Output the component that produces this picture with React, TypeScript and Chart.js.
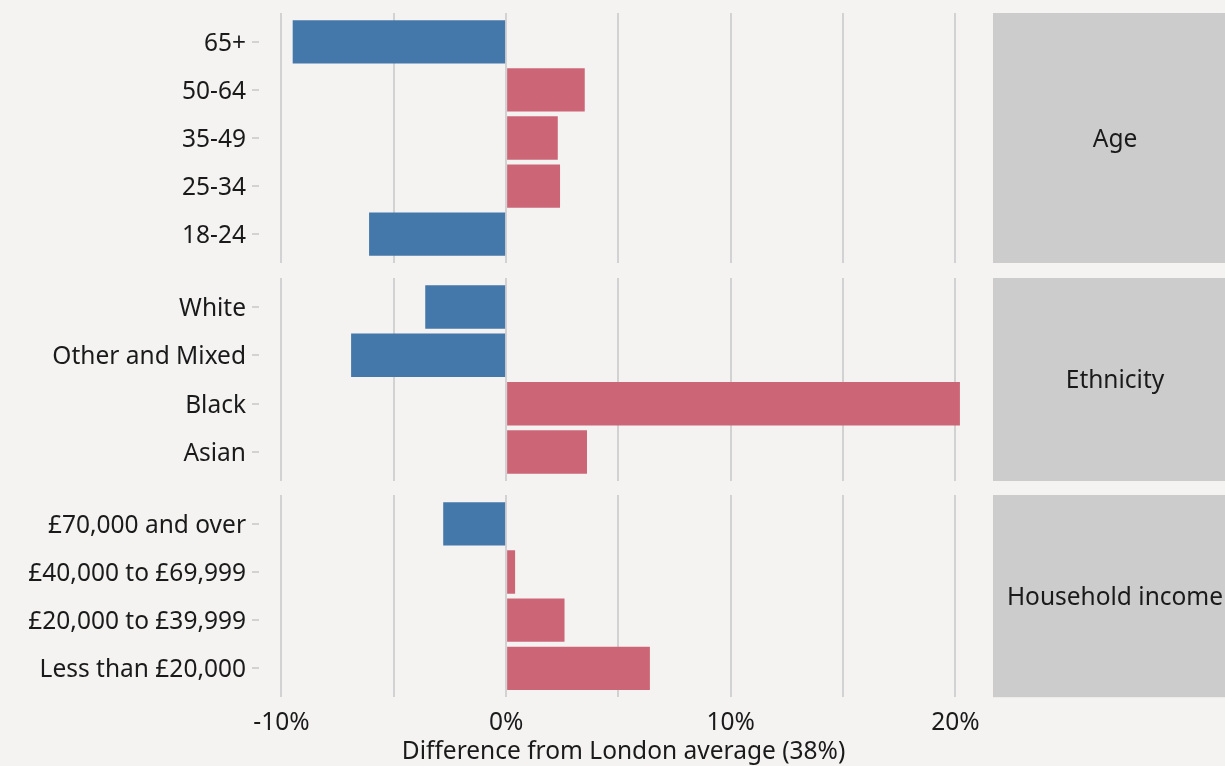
import React, { useEffect, useRef } from "react";
import { Chart, registerables } from "chart.js";

Chart.register(...registerables);

// ---------- data ----------
const ageCategories = ["65+", "50-64", "35-49", "25-34", "18-24"];
const ageValues = [-9.5, 3.5, 2.3, 2.4, -6.1];

const ethnicityCategories = ["White", "Other and Mixed", "Black", "Asian"];
const ethnicityValues = [-3.6, -6.9, 20.2, 3.6];

const incomeCategories = [
  "£70,000 and over",
  "£40,000 to £69,999",
  "£20,000 to £39,999",
  "Less than £20,000",
];
const incomeValues = [-2.8, 0.4, 2.6, 6.4];

const facetLabels = ["Age", "Ethnicity", "Household income"];
const xLabelledTicks = [-10, 0, 10, 20];
const xTitle = "Difference from London average (38%)";

// ---------- styles ----------
const BG = "#F4F3F2";
const NEG = "#4477AA";
const POS = "#CC6677";
const GRID = "#D2D2D2";
const STRIP = "#CCCCCC";
const TEXT = "#1A1A1A";
const FONT = "'Noto Sans', sans-serif";
const FONT_SIZE = 24.5;
const X_MIN = -11.0;
const X_MAX = 21.45;
const Y_AXIS_WIDTH = 259;
const RIGHT_PAD = 1225 - 988;

type PanelProps = {
  categories: string[];
  values: number[];
  strip: string;
  top: number;
  height: number;
  padTop: number;
  padBottom: number;
  showX: boolean;
};

function Panel({ categories, values, strip, top, height, padTop, padBottom, showX }: PanelProps) {
  const ref = useRef<HTMLCanvasElement | null>(null);

  useEffect(() => {
    if (!ref.current) return;
    const n = categories.length;

    const stripPlugin = {
      id: "strip",
      afterDraw(chart: any) {
        const { ctx, chartArea } = chart;
        ctx.save();
        ctx.fillStyle = STRIP;
        const x0 = chartArea.right + 5;
        ctx.fillRect(x0, chartArea.top, chart.width - x0, chartArea.bottom - chartArea.top);
        ctx.fillStyle = TEXT;
        ctx.font = `${FONT_SIZE}px ${FONT}`;
        ctx.textAlign = "center";
        ctx.textBaseline = "middle";
        ctx.fillText(strip, 1115, (chartArea.top + chartArea.bottom) / 2 + 2);
        ctx.restore();
      },
    };

    const chart = new Chart(ref.current, {
      type: "bar",
      data: {
        datasets: [
          {
            data: values.map((v, i) => ({ x: v, y: i })),
            backgroundColor: values.map((v) => (v < 0 ? NEG : POS)),
            borderWidth: 0,
            inflateAmount: 0,
            categoryPercentage: 0.9,
            barPercentage: 1,
          },
        ],
      },
      options: {
        indexAxis: "y",
        animation: false,
        responsive: false,
        maintainAspectRatio: false,
        events: [],
        layout: { padding: { top: padTop, bottom: padBottom, left: 0, right: RIGHT_PAD } },
        plugins: { legend: { display: false }, tooltip: { enabled: false } },
        scales: {
          x: {
            type: "linear",
            min: X_MIN,
            max: X_MAX,
            offset: false,
            border: { display: false },
            grid: { color: GRID, lineWidth: 2, drawTicks: false, offset: false },
            afterBuildTicks: (axis: any) => {
              axis.ticks = axis.ticks.filter((t: any) => Math.abs(t.value % 5) < 1e-9);
            },
            ticks: {
              display: showX,
              includeBounds: false,
              stepSize: 5,
              padding: 11,
              maxRotation: 0,
              autoSkip: false,
              color: TEXT,
              font: { family: FONT, size: FONT_SIZE },
              callback: (v: any) => (xLabelledTicks.includes(Number(v)) ? `${v}%` : ""),
            },
            title: {
              display: showX,
              text: xTitle,
              color: TEXT,
              font: { family: FONT, size: FONT_SIZE },
              padding: { top: -11, bottom: 0 },
            },
          },
          y: {
            type: "linear",
            reverse: true,
            offset: false,
            min: -0.6,
            max: n - 1 + 0.6,
            border: { display: false },
            grid: {
              offset: false,
              drawOnChartArea: false,
              drawTicks: true,
              tickLength: 7,
              color: GRID,
              lineWidth: 2,
            },
            afterBuildTicks: (axis: any) => {
              axis.ticks = categories.map((_, i) => ({ value: i }));
            },
            afterFit: (axis: any) => {
              axis.width = Y_AXIS_WIDTH;
              axis.paddingTop = 0;
              axis.paddingBottom = 0;
            },
            ticks: {
              padding: 6,
              labelOffset: 2,
              autoSkip: false,
              color: TEXT,
              font: { family: FONT, size: FONT_SIZE },
              callback: (v: any) => categories[Number(v)] ?? "",
            },
          },
        },
      },
      plugins: [stripPlugin],
    } as any);

    return () => chart.destroy();
  }, [categories, values, strip, padTop, padBottom, showX]);

  return (
    <canvas
      ref={ref}
      width={1225}
      height={height}
      style={{ position: "absolute", left: 0, top, width: 1225, height }}
    />
  );
}

export default function App() {
  return (
    <div
      style={{
        position: "fixed",
        left: 0,
        top: 0,
        width: 1225,
        height: 766,
        background: BG,
        overflow: "hidden",
      }}
    >
      <Panel categories={ageCategories} values={ageValues} strip={facetLabels[0]} top={0} height={270} padTop={13} padBottom={7} showX={false} />
      <Panel categories={ethnicityCategories} values={ethnicityValues} strip={facetLabels[1]} top={270} height={215} padTop={8} padBottom={4} showX={false} />
      <Panel categories={incomeCategories} values={incomeValues} strip={facetLabels[2]} top={485} height={282} padTop={10} padBottom={0} showX={true} />
    </div>
  );
}
